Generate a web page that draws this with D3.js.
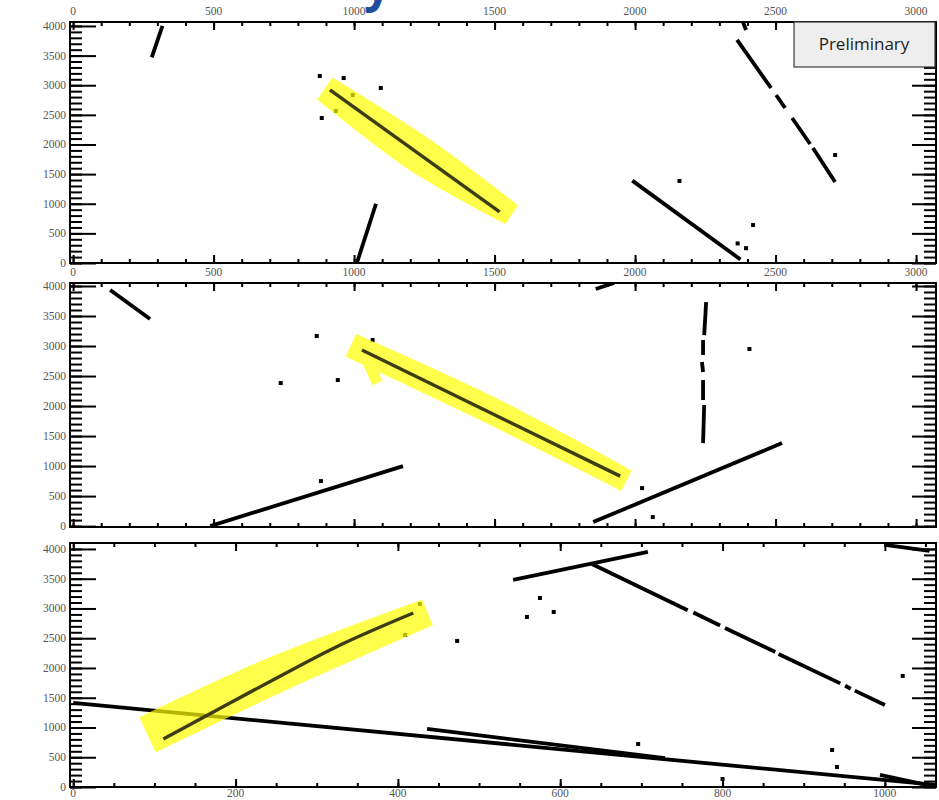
<!DOCTYPE html>
<html>
<head>
<meta charset="utf-8">
<script src="https://cdn.jsdelivr.net/npm/d3@7"></script>
<style>
  body { margin: 0; background: #fff; }
  svg { display: block; }
</style>
</head>
<body>
<svg id="display" width="939" height="800"></svg>
<script>
// ---- Event display data: [wire, time] pairs per view ----

// View 1 (wires 0-3071)
const view1Tracks = [
  [[280, 3470], [318, 4000]],
  [[1010, 0], [1078, 1000]],
  [[1990, 1390], [2375, 60]],
  [[2363, 3764], [2484, 2953]],
  [[2502, 2835], [2534, 2616]],
  [[2559, 2447], [2623, 2008]],
  [[2633, 1941], [2712, 1367]],
  [[2384, 4067], [2395, 3932]]
];
const view1Candidate = [[914, 2920], [1518, 861]];
const view1Band = [[897, 2940], [1235, 1823], [1560, 820]];
const view1BandExtra = [];
const view1Hits = [[878, 3156], [963, 3122], [995, 2835], [1095, 2954], [885, 2447], [935, 2565],
                   [2158, 1384], [2712, 1823], [2420, 641], [2365, 330], [2395, 250]];

// View 2 (wires 0-3071)
const view2Tracks = [
  [[132, 3933], [274, 3450]],
  [[488, 0], [1174, 1000]],
  [[1851, 67], [2523, 1383]],
  [[2253, 3733], [2246, 3183]],
  [[2242, 3100], [2242, 2850]],
  [[2238, 2733], [2242, 2567]],
  [[2242, 2433], [2242, 2100]],
  [[2246, 2017], [2242, 1383]],
  [[1860, 3950], [1925, 4050]]
];
const view2Candidate = [[1028, 2933], [1947, 833]];
const view2Band = [[990, 3010], [1484, 1933], [1968, 760]];
const view2BandExtra = [[1039, 2833], [1075, 2467]];
const view2Hits = [[867, 3167], [739, 2383], [942, 2433], [1066, 3100], [882, 750], [2407, 2950],
                   [2025, 633], [2063, 150]];

// View 3 (wires 0-1063)
const view3Tracks = [
  [[0, 1412], [1063, 34]],
  [[436, 975], [729, 487]],
  [[542, 3479], [708, 3950]],
  [[639, 3748], [757, 2971]], [[764, 2931], [797, 2713]], [[803, 2672], [865, 2269]],
  [[869, 2235], [945, 1741]], [[951, 1701], [958, 1652]], [[963, 1620], [1000, 1378]],
  [[1000, 4067], [1055, 3966]],
  [[994, 202], [1063, 0]]
];
const view3Candidate = [[111, 807], [246, 1798], [329, 2387], [419, 2924]];
const view3Band = [[92, 880], [246, 1866], [436, 2930]];
const view3BandExtra = [];
const view3Hits = [[427, 3076], [409, 2555], [575, 3176], [559, 2857], [592, 2941], [473, 2454],
                   [1022, 1866], [696, 723], [935, 622], [941, 336], [800, 134]];

// Axis tick values
const wireMajor = [0, 500, 1000, 1500, 2000, 2500, 3000];
const wireMinor = d3.range(0, 3001, 100);
const wireMajorSmall = [0, 200, 400, 600, 800, 1000];
const wireMinorSmall = d3.range(0, 1051, 50);
const timeMajor = [0, 500, 1000, 1500, 2000, 2500, 3000, 3500, 4000];
const timeMinor = d3.range(0, 4001, 100);

const svg = d3.select('#display');

const LEFT = 70, RIGHT = 936;

const views = [
  { tracks: view1Tracks, candidate: view1Candidate, band: view1Band, bandW: [26, 36, 22], extra: view1BandExtra,
    hits: view1Hits, xDomain: [-11, 3071], yDomain: [0, 4067], top: 22, bottom: 263,
    xMajor: wireMajor, xMinor: wireMinor, labelY: 15 },
  { tracks: view2Tracks, candidate: view2Candidate, band: view2Band, bandW: [24, 26, 22], extra: view2BandExtra,
    hits: view2Hits, xDomain: [-11, 3071], yDomain: [-15, 4050], top: 283, bottom: 527,
    xMajor: wireMajor, xMinor: wireMinor, labelY: 276 },
  { tracks: view3Tracks, candidate: view3Candidate, band: view3Band, bandW: [38, 36, 27], extra: view3BandExtra,
    hits: view3Hits, xDomain: [-4, 1063], yDomain: [0, 4100], top: 543, bottom: 787,
    xMajor: wireMajorSmall, xMinor: wireMinorSmall, labelY: 797 }
];

const labelFont = 'Liberation Serif, DejaVu Serif, serif';

function styleTicks(sel) {
  sel.select('.domain').remove();
  sel.selectAll('line').attr('stroke', '#000').attr('stroke-width', 2);
}

// Closed outline of a highlight band of varying width around a centre line
function bandPath(pts, widths) {
  const n = pts.length;
  const left = [], right = [];
  for (let i = 0; i < n; i++) {
    const a = pts[Math.max(0, i - 1)], b = pts[Math.min(n - 1, i + 1)];
    const dx = b[0] - a[0], dy = b[1] - a[1];
    const len = Math.hypot(dx, dy);
    const nx = -dy / len, ny = dx / len;
    const h = widths[i] / 2;
    left.push([pts[i][0] + nx * h, pts[i][1] + ny * h]);
    right.push([pts[i][0] - nx * h, pts[i][1] - ny * h]);
  }
  const c = d3.line().curve(d3.curveCatmullRom);
  return c(left) + 'L' + c(right.reverse()).slice(1) + 'Z';
}

views.forEach(v => {
  const x = d3.scaleLinear().domain(v.xDomain).range([LEFT, RIGHT]);
  const y = d3.scaleLinear().domain(v.yDomain).range([v.bottom, v.top]);
  const g = svg.append('g');
  const line = d3.line().x(d => x(d[0])).y(d => y(d[1]));

  const clipId = 'clip' + v.top;
  svg.append('clipPath').attr('id', clipId)
    .append('rect').attr('x', LEFT).attr('y', v.top).attr('width', RIGHT - LEFT).attr('height', v.bottom - v.top);
  const plot = g.append('g').attr('clip-path', `url(#${clipId})`);

  // reconstructed tracks
  plot.selectAll('path.trk').data(v.tracks).join('path')
    .attr('class', 'trk')
    .attr('d', line)
    .attr('fill', 'none').attr('stroke', '#000').attr('stroke-width', 3.8);

  // isolated hits
  plot.selectAll('rect.hit').data(v.hits).join('rect')
    .attr('class', 'hit')
    .attr('x', d => x(d[0]) - 2).attr('y', d => y(d[1]) - 2)
    .attr('width', 4).attr('height', 4).attr('fill', '#000');

  // highlighted candidate region
  const hl = plot.append('g').attr('opacity', 0.7);
  hl.append('path').attr('d', bandPath(v.band.map(d => [x(d[0]), y(d[1])]), v.bandW))
    .attr('fill', '#ffff00').attr('stroke', '#ffff00').attr('stroke-width', 1);
  if (v.extra.length) {
    hl.append('path').attr('d', line(v.extra))
      .attr('fill', 'none').attr('stroke', '#ffff00').attr('stroke-width', 11)
      .attr('stroke-linecap', 'square');
  }

  // candidate track
  plot.append('path')
    .attr('d', d3.line().x(d => x(d[0])).y(d => y(d[1])).curve(d3.curveCatmullRom)(v.candidate))
    .attr('fill', 'none').attr('stroke', '#3d3d14').attr('stroke-width', 3.4);

  // frame
  g.append('rect').attr('x', LEFT).attr('y', v.top).attr('width', RIGHT - LEFT).attr('height', v.bottom - v.top)
    .attr('fill', 'none').attr('stroke', '#000').attr('stroke-width', 2);

  // inward ticks on all four sides
  const xt = d3.axisTop(x).tickValues(v.xMinor).tickSize(-4).tickSizeOuter(0).tickFormat('');
  const xT = d3.axisTop(x).tickValues(v.xMajor).tickSize(-8).tickSizeOuter(0).tickFormat('');
  const xb = d3.axisBottom(x).tickValues(v.xMinor).tickSize(-4).tickSizeOuter(0).tickFormat('');
  const xB = d3.axisBottom(x).tickValues(v.xMajor).tickSize(-8).tickSizeOuter(0).tickFormat('');
  g.append('g').attr('transform', `translate(0,${v.top})`).call(xt).call(styleTicks);
  g.append('g').attr('transform', `translate(0,${v.top})`).call(xT).call(styleTicks);
  g.append('g').attr('transform', `translate(0,${v.bottom})`).call(xb).call(styleTicks);
  g.append('g').attr('transform', `translate(0,${v.bottom})`).call(xB).call(styleTicks);

  const yl = d3.axisLeft(y).tickValues(timeMinor).tickSize(-12).tickSizeOuter(0).tickFormat('');
  const yL = d3.axisLeft(y).tickValues(timeMajor).tickSize(-26).tickSizeOuter(0).tickFormat('');
  const yr = d3.axisRight(y).tickValues(timeMinor).tickSize(-12).tickSizeOuter(0).tickFormat('');
  const yR = d3.axisRight(y).tickValues(timeMajor).tickSize(-24).tickSizeOuter(0).tickFormat('');
  g.append('g').attr('transform', `translate(${LEFT},0)`).call(yl).call(styleTicks);
  g.append('g').attr('transform', `translate(${LEFT},0)`).call(yL).call(styleTicks);
  g.append('g').attr('transform', `translate(${RIGHT},0)`).call(yr).call(styleTicks);
  g.append('g').attr('transform', `translate(${RIGHT},0)`).call(yR).call(styleTicks);

  // tick labels
  g.append('g').selectAll('text').data(v.xMajor).join('text')
    .attr('x', d => x(d)).attr('y', v.labelY)
    .attr('text-anchor', 'middle')
    .attr('font-family', labelFont).attr('font-size', 11.5).attr('fill', '#555')
    .text(d => d);
  g.append('g').selectAll('text').data(timeMajor).join('text')
    .attr('x', LEFT - 4).attr('y', d => y(d) + 4)
    .attr('text-anchor', 'end')
    .attr('font-family', labelFont).attr('font-size', 11.5).attr('fill', '#555')
    .text(d => d);
});

// status tag
const tag = svg.append('g');
tag.append('rect').attr('x', 794).attr('y', 22).attr('width', 141).attr('height', 45)
  .attr('fill', '#eeeeee').attr('stroke', '#3a3a3a').attr('stroke-width', 1.2);
tag.append('text').attr('x', 864).attr('y', 50).attr('text-anchor', 'middle')
  .attr('font-family', 'Open Sans, Noto Sans, sans-serif').attr('font-size', 17).attr('fill', '#222')
  .text('Preliminary');

// heading lettering running off the top edge
svg.append('text').attr('x', 364).attr('y', 1)
  .attr('font-family', 'Open Sans, sans-serif').attr('font-weight', 700).attr('font-size', 48)
  .attr('fill', '#1f4e9c').text('y');
</script>
</body>
</html>
